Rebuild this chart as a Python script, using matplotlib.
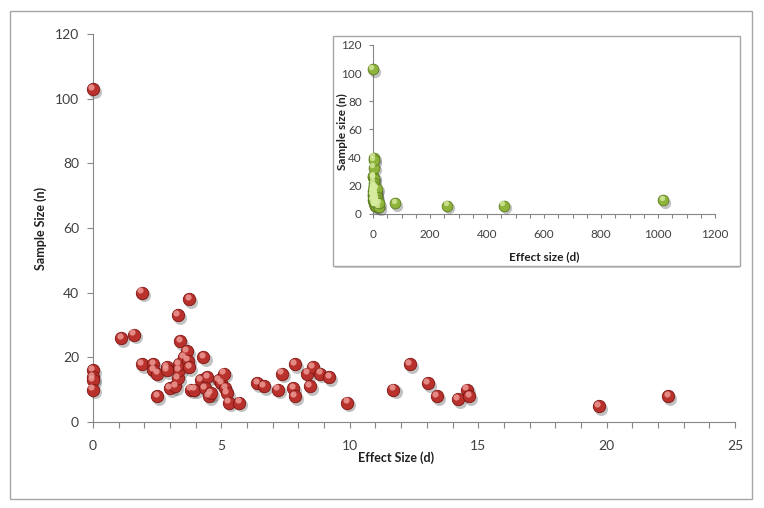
import matplotlib
matplotlib.use("Agg")
import matplotlib.pyplot as plt
from matplotlib.patches import Rectangle
from matplotlib.transforms import offset_copy
import numpy as np

plt.rcParams['font.family'] = ['Lato', 'DejaVu Sans']

# effect size (d) and sample size (n), studies with d < 25
effect = [0, 0, 0, 0, 0,
          1.1, 1.6, 1.9, 1.9,
          2.35, 2.35, 2.5, 2.5,
          2.87, 2.87, 3.0, 3.2, 3.3, 3.4, 3.3, 3.35, 3.35,
          3.55, 3.65, 3.7, 3.75, 3.75, 3.8, 3.95,
          4.3, 4.2, 4.45, 4.35, 4.5, 4.6,
          4.9, 5.0, 5.1, 5.15, 5.2, 5.3, 5.7,
          6.4, 6.65, 7.2, 7.35, 7.85, 7.8, 7.85,
          8.35, 8.45, 8.55, 8.85, 9.2, 9.9,
          11.7, 12.35, 13.05, 13.4, 14.2, 14.55, 14.65, 19.7, 22.4]
sample = [103, 16, 14, 13, 10,
          26, 27, 40, 18,
          18, 16, 15, 8,
          17, 16, 10.5, 11, 33, 25, 13.5, 16, 18,
          20, 22, 19, 17, 38, 10, 10,
          20, 13, 14, 10.5, 8, 9,
          13, 12, 15, 10.5, 9, 6, 6,
          12, 11, 10, 15, 18, 10.5, 8,
          15, 11, 17, 15, 14, 6,
          10, 18, 12, 8, 7, 10, 8, 5, 8]

# the few very large effect sizes, shown only in the inset
effect_out = [78, 261, 458, 1019]
sample_out = [8, 6, 6, 10]

effect_all = effect + effect_out
sample_all = sample + sample_out

W, H = 764, 508
fig = plt.figure(figsize=(W / 100, H / 100), dpi=100)
fig.patch.set_facecolor('white')


def fx(px):
    return px / W


def fy(py):
    return 1 - py / H


def balls(ax, x, y, s, base, edge, light, shade):
    # fake the Excel 3D sphere: shadow, body, highlight
    sh = offset_copy(ax.transData, fig=fig, x=1.5, y=-2, units='points')
    ax.scatter(x, y, s=s * 1.1, color=shade, alpha=0.35, lw=0, transform=sh, zorder=3, clip_on=False)
    ax.scatter(x, y, s=s, color=base, edgecolor=edge, lw=0.6, zorder=4, clip_on=False)
    hl = offset_copy(ax.transData, fig=fig, x=-1.2, y=1.6, units='points')
    ax.scatter(x, y, s=s * 0.25, color=light, alpha=0.8, lw=0, transform=hl, zorder=5, clip_on=False)


grey = '#868686'
txt = '#404040'

# outer frame
fig.add_artist(Rectangle((fx(10), fy(499)), fx(742), (499 - 11) / H, transform=fig.transFigure,
                         fill=False, edgecolor='#a6a6a6', lw=1, zorder=0))

# main chart
ax = fig.add_axes([fx(93), fy(422), fx(735 - 93), (422 - 34) / H])
ax.set_zorder(0)
balls(ax, effect, sample, 80, '#b8312c', '#7d1613', '#f0a09a', '#505050')
ax.set_xlim(0, 25)
ax.set_ylim(0, 120)
ax.set_xticks(np.arange(0, 26, 5))
ax.set_xticks(np.arange(0, 26, 1), minor=True)
ax.set_yticks(np.arange(0, 121, 20))
for side in ['top', 'right']:
    ax.spines[side].set_visible(False)
for side in ['left', 'bottom']:
    ax.spines[side].set_color(grey)
    ax.spines[side].set_linewidth(0.8)
ax.tick_params(which='both', direction='out', length=4, width=0.8, color=grey, labelcolor=txt, labelsize=10)
ax.tick_params(axis='x', which='both', pad=9)
ax.tick_params(axis='y', pad=6)
ax.set_xlabel('Effect Size (d)', fontweight='bold', fontsize=9, color='#202020')
ax.set_ylabel('Sample Size (n)', fontweight='bold', fontsize=9, color='#202020')
ax.xaxis.set_label_coords((396 - 93) / 642, -0.075)
ax.yaxis.set_label_coords((47 - 93) / 642, 0.5)

# inset frame
fig.add_artist(Rectangle((fx(335), fy(268)), fx(405), (268 - 38) / H, transform=fig.transFigure,
                         facecolor='#d0d0d0', edgecolor='none', zorder=1))
fig.add_artist(Rectangle((fx(333), fy(266)), fx(407), (266 - 36) / H, transform=fig.transFigure,
                         facecolor='white', edgecolor='#a6a6a6', lw=1, zorder=1))

# inset chart with every study
ins = fig.add_axes([fx(373), fy(214), fx(715 - 373), (214 - 45) / H])
ins.set_zorder(2)
ins.patch.set_alpha(0)
balls(ins, effect_all, sample_all, 60, '#8db33a', '#5c7d1f', '#d8eca0', '#505050')
ins.set_xlim(0, 1200)
ins.set_ylim(0, 120)
ins.set_xticks(np.arange(0, 1201, 200))
ins.set_xticks(np.arange(0, 1201, 50), minor=True)
ins.set_yticks(np.arange(0, 121, 20))
for side in ['top', 'right']:
    ins.spines[side].set_visible(False)
for side in ['left', 'bottom']:
    ins.spines[side].set_color(grey)
    ins.spines[side].set_linewidth(0.8)
ins.tick_params(which='both', direction='out', length=3, width=0.8, color=grey, labelcolor=txt, labelsize=8.5)
ins.tick_params(axis='x', which='both', pad=8)
ins.tick_params(axis='y', pad=5)
ins.set_xlabel('Effect size (d)', fontweight='bold', fontsize=8.5, color='#202020')
ins.set_ylabel('Sample size (n)', fontweight='bold', fontsize=8.5, color='#202020')
ins.xaxis.set_label_coords(0.5, -0.22)
ins.yaxis.set_label_coords(-0.073, 0.49)

fig.savefig('out.png', dpi=100, facecolor='white')
